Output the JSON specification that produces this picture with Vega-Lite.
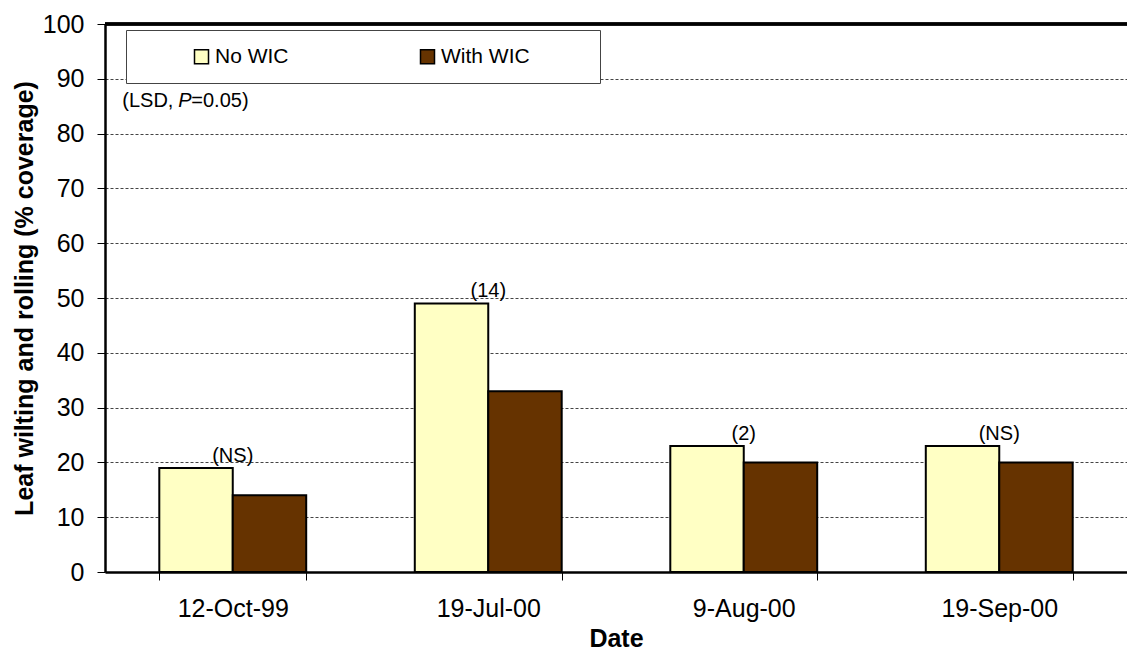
{
  "$schema": "https://vega.github.io/schema/vega-lite/v6.json",
  "width": 1022,
  "height": 548,
  "autosize": {"type": "none"},
  "padding": {"left": 105, "top": 24, "right": 0, "bottom": 82},
  "background": "white",
  "config": {
    "font": "Liberation Sans",
    "view": {"stroke": null},
    "axis": {"labelFont": "Liberation Sans", "titleFont": "Liberation Sans"}
  },
  "data": {
    "values": [
      {"date": "12-Oct-99", "treatment": "No WIC", "value": 19},
      {"date": "12-Oct-99", "treatment": "With WIC", "value": 14},
      {"date": "19-Jul-00", "treatment": "No WIC", "value": 49},
      {"date": "19-Jul-00", "treatment": "With WIC", "value": 33},
      {"date": "9-Aug-00", "treatment": "No WIC", "value": 23},
      {"date": "9-Aug-00", "treatment": "With WIC", "value": 20},
      {"date": "19-Sep-00", "treatment": "No WIC", "value": 23},
      {"date": "19-Sep-00", "treatment": "With WIC", "value": 20}
    ]
  },
  "layer": [
    {
      "mark": {"type": "bar", "stroke": "black", "strokeWidth": 2},
      "encoding": {
        "x": {
          "field": "date",
          "type": "nominal",
          "sort": null,
          "scale": {"domain": ["12-Oct-99", "19-Jul-00", "9-Aug-00", "19-Sep-00"], "paddingInner": 0.425, "paddingOuter": 0.2125},
          "axis": {
            "title": "Date",
            "titleFontSize": 25,
            "titleFontWeight": "bold",
            "titleColor": "black",
            "titlePadding": 5,
            "labelAngle": 0,
            "labelFontSize": 25,
            "labelColor": "black",
            "labelPadding": 16,
            "tickBand": "extent",
            "tickSize": 8,
            "tickColor": "black",
            "domainColor": "black",
            "domainWidth": 2.5,
            "grid": false
          }
        },
        "xOffset": {
          "field": "treatment",
          "type": "nominal",
          "sort": ["No WIC", "With WIC"],
          "scale": {"paddingInner": 0, "paddingOuter": 0}
        },
        "y": {
          "field": "value",
          "type": "quantitative",
          "scale": {"domain": [0, 100], "nice": false},
          "axis": {
            "title": "Leaf wilting and rolling (% coverage)",
            "titleFontSize": 25,
            "titleFontWeight": "bold",
            "titleColor": "black",
            "titlePadding": 5,
            "values": [0, 10, 20, 30, 40, 50, 60, 70, 80, 90, 100],
            "labelFontSize": 25,
            "labelColor": "black",
            "labelPadding": 13,
            "tickSize": 8,
            "tickColor": "black",
            "domainColor": "black",
            "domainWidth": 2.5,
            "grid": true,
            "gridColor": "#444444",
            "gridWidth": 1,
            "gridDash": [3, 2]
          }
        },
        "color": {
          "field": "treatment",
          "type": "nominal",
          "sort": ["No WIC", "With WIC"],
          "scale": {"domain": ["No WIC", "With WIC"], "range": ["#FFFFC4", "#663300"]},
          "legend": {
            "title": ".",
            "titleOrient": "right",
            "titleFontSize": 2,
            "titleColor": "white",
            "titlePadding": 53,
            "orient": "none",
            "legendX": 21,
            "legendY": 6,
            "direction": "horizontal",
            "symbolType": "square",
            "symbolSize": 196,
            "symbolStrokeColor": "black",
            "symbolStrokeWidth": 1.5,
            "symbolOpacity": 1,
            "symbolOffset": 49,
            "labelFontSize": 21,
            "labelColor": "black",
            "labelOffset": 3,
            "columnPadding": 79,
            "padding": 16,
            "fillColor": "white",
            "strokeColor": "#444444",
            "labelLimit": 400
          }
        }
      }
    },
    {
      "mark": {"type": "rule", "color": "black", "strokeWidth": 2.5},
      "encoding": {
        "y": {"datum": 100, "type": "quantitative"}
      }
    },
    {
      "data": {
        "values": [
          {"date": "12-Oct-99", "top": 19, "label": "(NS)"},
          {"date": "19-Jul-00", "top": 49, "label": "(14)"},
          {"date": "9-Aug-00", "top": 23, "label": "(2)"},
          {"date": "19-Sep-00", "top": 23, "label": "(NS)"}
        ]
      },
      "mark": {"type": "text", "baseline": "bottom", "dy": -2, "fontSize": 20, "color": "black"},
      "encoding": {
        "x": {"field": "date", "type": "nominal", "sort": null},
        "y": {"field": "top", "type": "quantitative"},
        "text": {"field": "label"}
      }
    },
    {
      "data": {"values": [{"date": "12-Oct-99", "v": 86, "t": "(LSD, "}]},
      "mark": {"type": "text", "align": "left", "baseline": "middle", "dx": -37, "fontSize": 20, "color": "black"},
      "encoding": {
        "x": {"field": "date", "type": "nominal", "sort": null, "bandPosition": 0},
        "y": {"field": "v", "type": "quantitative"},
        "text": {"field": "t"}
      }
    },
    {
      "data": {"values": [{"date": "12-Oct-99", "v": 86, "t": "P"}]},
      "mark": {"type": "text", "align": "left", "baseline": "middle", "dx": 19, "fontSize": 20, "fontStyle": "italic", "color": "black"},
      "encoding": {
        "x": {"field": "date", "type": "nominal", "sort": null, "bandPosition": 0},
        "y": {"field": "v", "type": "quantitative"},
        "text": {"field": "t"}
      }
    },
    {
      "data": {"values": [{"date": "12-Oct-99", "v": 86, "t": "=0.05)"}]},
      "mark": {"type": "text", "align": "left", "baseline": "middle", "dx": 32, "fontSize": 20, "color": "black"},
      "encoding": {
        "x": {"field": "date", "type": "nominal", "sort": null, "bandPosition": 0},
        "y": {"field": "v", "type": "quantitative"},
        "text": {"field": "t"}
      }
    }
  ]
}
